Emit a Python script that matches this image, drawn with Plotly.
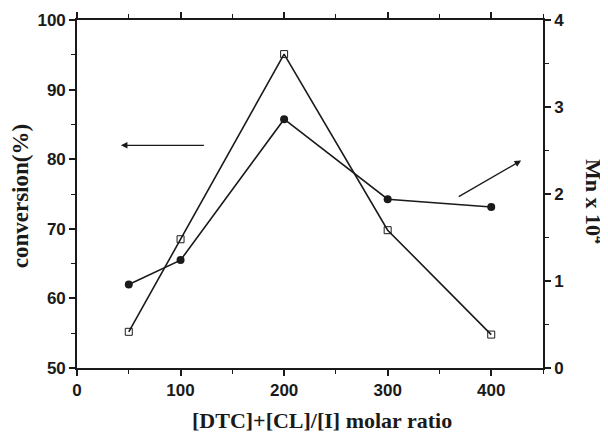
import plotly.graph_objects as go

ratio = [50, 100, 200, 300, 400]
conversion = [55.2, 68.5, 95.1, 69.8, 54.8]
mn = [0.96, 1.24, 2.86, 1.94, 1.85]

x_ticks = [0, 100, 200, 300, 400]
y_ticks = [50, 60, 70, 80, 90, 100]
y2_ticks = [0, 1, 2, 3, 4]

ink = "#1a1a1a"
tickfont = dict(family="Liberation Sans, Arial", size=17, color=ink, weight="bold")
serif = "Liberation Serif, Times New Roman"

fig = go.Figure()
fig.add_trace(go.Scatter(
    x=ratio, y=conversion, mode="lines+markers",
    line=dict(color=ink, width=1.6),
    marker=dict(symbol="square-open", size=7, color=ink, line=dict(width=1)),
    showlegend=False, cliponaxis=False))
fig.add_trace(go.Scatter(
    x=ratio, y=mn, mode="lines+markers", yaxis="y2",
    line=dict(color=ink, width=1.6),
    marker=dict(symbol="circle", size=8, color=ink),
    showlegend=False, cliponaxis=False))

axis_common = dict(showline=True, linecolor=ink, linewidth=1.6, ticks="outside",
                   tickcolor=ink, tickwidth=1.5, ticklen=6, showgrid=False,
                   zeroline=False, tickfont=tickfont, automargin=False)

fig.update_layout(
    width=600, height=426,
    margin=dict(l=69, r=65, t=12, b=65.5),
    paper_bgcolor="white", plot_bgcolor="white",
    xaxis=dict(range=[0, 450], tickvals=x_ticks, mirror="ticks",
               minor=dict(dtick=50, tick0=0, ticks="outside", ticklen=4, tickcolor=ink, tickwidth=1.2),
               **axis_common),
    yaxis=dict(range=[50, 100], tickvals=y_ticks,
               minor=dict(dtick=5, tick0=50, ticks="outside", ticklen=4, tickcolor=ink, tickwidth=1.2),
               **axis_common),
    yaxis2=dict(range=[0, 4], tickvals=y2_ticks, overlaying="y", side="right",
                minor=dict(dtick=0.5, tick0=0, ticks="outside", ticklen=4, tickcolor=ink, tickwidth=1.2),
                **axis_common),
    annotations=[
        dict(x=42.4, y=82.0, ax=124, ay=82.0, xref="x", yref="y", axref="x", ayref="y",
             showarrow=True, arrowhead=2, arrowsize=1, arrowwidth=1.3, arrowcolor=ink, text=""),
        dict(x=428.9, y=79.8, ax=367.2, ay=74.5, xref="x", yref="y", axref="x", ayref="y",
             showarrow=True, arrowhead=2, arrowsize=1, arrowwidth=1.3, arrowcolor=ink, text=""),
        dict(text="[DTC]+[CL]/[I] molar ratio", x=0.525, y=-0.152, xref="paper", yref="paper",
             showarrow=False, font=dict(family=serif, size=22, color=ink, weight="bold"),
             xanchor="center", yanchor="middle"),
        dict(text="conversion(%)", textangle=-90, x=-0.1223, y=0.4935, xref="paper", yref="paper",
             showarrow=False, font=dict(family=serif, size=23, color=ink, weight="bold"),
             xanchor="center", yanchor="middle"),
        dict(text="Mn x 10<sup>4</sup>", textangle=90, x=1.1116, y=0.48, xref="paper", yref="paper",
             showarrow=False, font=dict(family=serif, size=22, color=ink, weight="bold"),
             xanchor="center", yanchor="middle"),
    ],
)

fig.write_html("out.html")
